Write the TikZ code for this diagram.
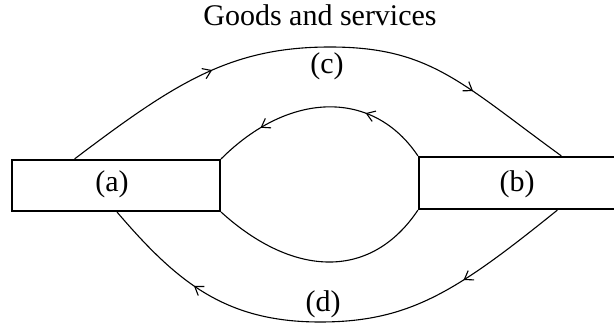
\documentclass[tikz,border=0pt]{standalone}
\usepackage{fontspec}
\setmainfont{Liberation Serif}
\usetikzlibrary{decorations.markings,arrows.meta,calc}
\tikzset{barb/.tip={Straight Barb[length=8pt,width=11pt]}}
\begin{document}
\begin{tikzpicture}[x=1pt,y=-1pt,
  box/.style={draw, line width=2.2pt, rectangle, inner sep=0pt},
  flow/.style={line width=1.1pt},
  lbl/.style={font=\fontsize{30}{36}\selectfont, anchor=base, inner sep=0pt},
  twotips/.style 2 args={postaction={decorate, decoration={markings,
      mark=at position #1 with {\arrow{barb}},
      mark=at position #2 with {\arrow{barb}}}}}
]
\useasboundingbox (0,0) rectangle (614,323);
\clip (0,0) rectangle (614,323);
\node[box, minimum width=208pt, minimum height=51pt] (a) at (116,185.5) {};
\node[box, minimum width=206pt, minimum height=52pt] (b) at (522,183) {};
\node[lbl] (la) at (112,192) {(a)};
\node[lbl] (lb) at (517,192) {(b)};
\node[lbl] (lc) at (327,74) {(c)};
\node[lbl] (ld) at (323,312) {(d)};
\node[lbl] (title) at (320,26) {Goods and services};
\coordinate (a1) at ($(a.north west)!0.303!(a.north east)$);
\coordinate (a2) at ($(a.south west)!0.505!(a.south east)$);
\coordinate (b1) at ($(b.north west)!0.689!(b.north east)$);
\coordinate (b2) at ($(b.south west)!0.67!(b.south east)$);
\coordinate (topmid) at (330,47);
\coordinate (botmid) at (320,322);
\draw[flow, twotips={0.3}{0.8}] (a1) .. controls (175,83) and (230,47) .. (topmid)
  .. controls (430,47) and (461,83) .. (b1);
\draw[flow, twotips={0.3}{0.78}] (b.north west) .. controls (374,90) and (290,90) .. (a.north east);
\draw[flow] (a.south east) .. controls (295,279) and (372,279) .. (b.south west);
\draw[flow, twotips={0.23}{0.79}] (b2) .. controls (457,291) and (410,322) .. (botmid)
  .. controls (225,322) and (177,282) .. (a2);
\end{tikzpicture}
\end{document}
